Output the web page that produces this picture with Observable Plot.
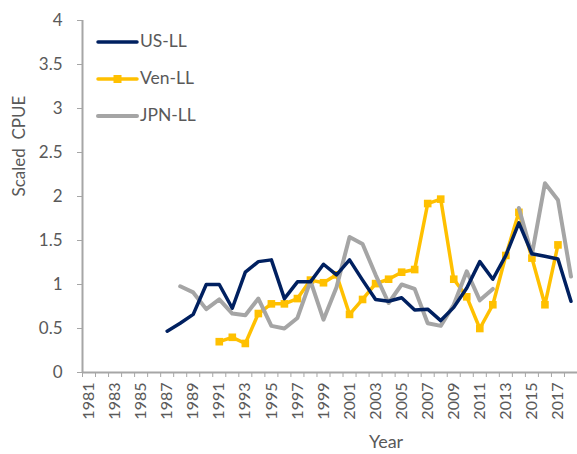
<!DOCTYPE html>
<html>
<head>
<meta charset="utf-8">
<script src="https://cdn.jsdelivr.net/npm/d3@7"></script>
<script src="https://cdn.jsdelivr.net/npm/@observablehq/plot@0.6"></script>
<style>
  html, body { margin: 0; padding: 0; background: #ffffff; }
  #wrap { position: relative; width: 577px; height: 454px; font-family: Lato, "Open Sans", sans-serif; }
  #legend { position: absolute; left: 0; top: 0; pointer-events: none; }
</style>
</head>
<body>
<div id="wrap"></div>
<script>
// ---- data ----
const years = [1981, 1982, 1983, 1984, 1985, 1986, 1987, 1988, 1989, 1990,
               1991, 1992, 1993, 1994, 1995, 1996, 1997, 1998, 1999, 2000,
               2001, 2002, 2003, 2004, 2005, 2006, 2007, 2008, 2009, 2010,
               2011, 2012, 2013, 2014, 2015, 2016, 2017, 2018];

const usLL = [null, null, null, null, null, null, 0.47, 0.56, 0.66, 1.00,
              1.00, 0.73, 1.14, 1.26, 1.28, 0.84, 1.03, 1.03, 1.23, 1.11,
              1.28, 1.05, 0.83, 0.81, 0.85, 0.71, 0.72, 0.59, 0.74, 0.96,
              1.26, 1.06, 1.33, 1.70, 1.35, 1.32, 1.29, 0.81];

const venLL = [null, null, null, null, null, null, null, null, null, null,
               0.35, 0.40, 0.33, 0.67, 0.78, 0.78, 0.84, 1.05, 1.02, 1.11,
               0.66, 0.83, 1.01, 1.06, 1.14, 1.17, 1.92, 1.97, 1.06, 0.86,
               0.50, 0.77, 1.33, 1.82, 1.30, 0.77, 1.45, null];

const jpnLL = [null, null, null, null, null, null, null, 0.98, 0.91, 0.72,
               0.83, 0.67, 0.65, 0.84, 0.53, 0.50, 0.62, 1.04, 0.60, 0.97,
               1.54, 1.46, 1.11, 0.79, 1.00, 0.95, 0.56, 0.53, 0.77, 1.15,
               0.82, 0.95, null, 1.87, 1.34, 2.15, 1.96, 1.09];

const yTicks = [0, 0.5, 1, 1.5, 2, 2.5, 3, 3.5, 4];
const xLabelYears = [1981, 1983, 1985, 1987, 1989, 1991, 1993, 1995, 1997, 1999,
                     2001, 2003, 2005, 2007, 2009, 2011, 2013, 2015, 2017];

const seriesNames = ["US-LL", "Ven-LL", "JPN-LL"];
const seriesColors = ["#002060", "#FFC000", "#A5A5A5"];
const yLabel = "Scaled\u00a0 CPUE";
const xLabel = "Year";

// ---- build ----
const rows = years.map((yr, i) => ({year: yr, us: usLL[i], ven: venLL[i], jpn: jpnLL[i]}));
const bounds = years.map(y => y - 0.5).concat([years[years.length - 1] + 0.5]);
const axisGray = "#A6A6A6";
const textGray = "#595959";
const font = "Lato, 'Open Sans', sans-serif";

const plot = Plot.plot({
  width: 577,
  height: 454,
  marginLeft: 82,
  marginRight: 0,
  marginTop: 20,
  marginBottom: 82,
  style: {fontFamily: font, fontSize: "16px", color: textGray, background: "#ffffff", overflow: "visible"},
  x: {type: "linear", domain: [bounds[0], bounds[bounds.length - 1]]},
  y: {domain: [0, 4]},
  marks: [
    Plot.axisY({ticks: yTicks, tickSize: 5, tickPadding: 15, stroke: axisGray, fill: textGray, fontSize: 17,
                label: null, tickFormat: d => String(d)}),
    Plot.axisX({ticks: bounds, tickSize: 5, stroke: axisGray, tickFormat: () => "", label: null}),
    Plot.axisX({ticks: xLabelYears, tickSize: 0, tickPadding: 10, tickRotate: -90, fill: textGray, fontSize: 16,
                tickFormat: d => String(d), label: null}),
    Plot.ruleX([bounds[0]], {stroke: axisGray, strokeWidth: 2}),
    Plot.ruleY([0], {stroke: axisGray, strokeWidth: 2}),
    Plot.line(rows, {x: "year", y: "ven", stroke: seriesColors[1], strokeWidth: 3.5}),
    Plot.dot(rows, {x: "year", y: "ven", symbol: "square", r: 4.3, fill: seriesColors[1], stroke: "none"}),
    Plot.line(rows, {x: "year", y: "jpn", stroke: seriesColors[2], strokeWidth: 4}),
    Plot.line(rows, {x: "year", y: "us", stroke: seriesColors[0], strokeWidth: 3.5}),
    Plot.text([yLabel], {frameAnchor: "left", rotate: -90, dx: -63, fontSize: 17, fill: textGray}),
    Plot.text([xLabel], {frameAnchor: "bottom", dx: 56, dy: 75, fontSize: 18, fill: textGray})
  ]
});

const wrap = document.getElementById("wrap");
wrap.appendChild(plot);

// ---- legend ----
const leg = d3.select(wrap).append("svg")
  .attr("id", "legend").attr("width", 577).attr("height", 454);
const legY = [42, 79, 116];
seriesNames.forEach((name, i) => {
  const g = leg.append("g").attr("transform", `translate(98,${legY[i]})`);
  g.append("line").attr("x1", 0).attr("x2", 39).attr("y1", 0).attr("y2", 0)
    .attr("stroke", seriesColors[i]).attr("stroke-width", i === 2 ? 4 : 3.5).attr("stroke-linecap", "round");
  if (i === 1) {
    g.append("rect").attr("x", 15.5).attr("y", -4).attr("width", 8).attr("height", 8).attr("fill", seriesColors[i]);
  }
  g.append("text").attr("x", 42).attr("y", 1).attr("dominant-baseline", "middle")
    .attr("font-size", 17.5).attr("fill", textGray)
    .attr("font-family", font).text(name);
});
</script>
</body>
</html>
